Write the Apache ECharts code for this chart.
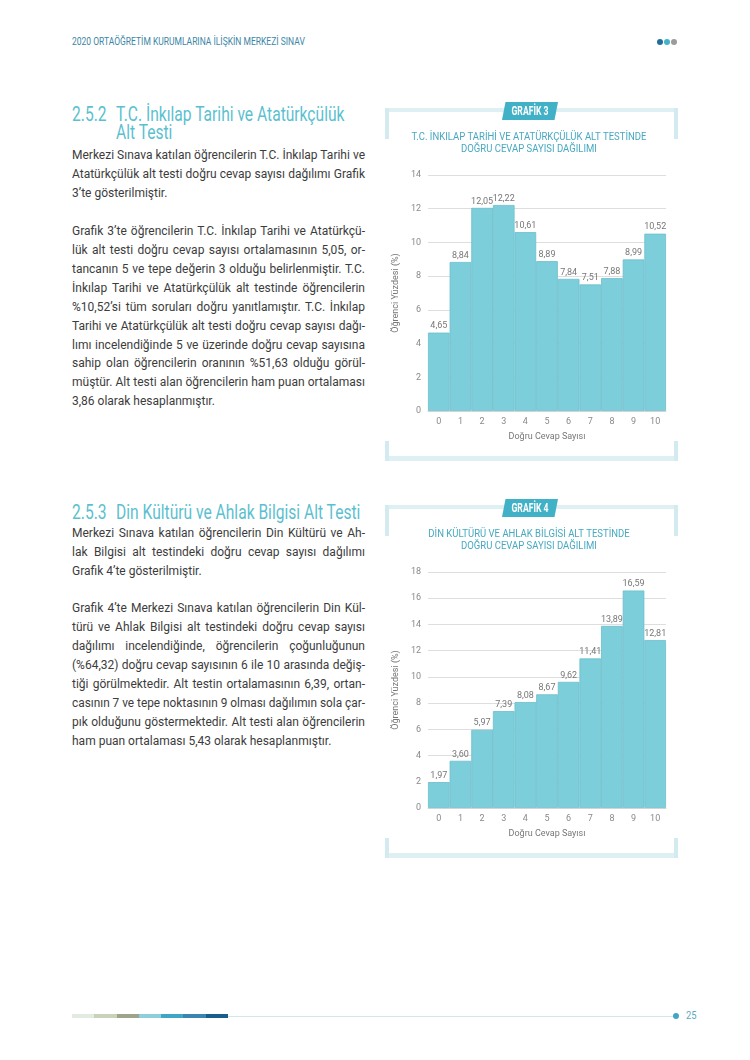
<!DOCTYPE html>
<html><head><meta charset="utf-8">
<script src="https://cdn.jsdelivr.net/npm/echarts@6/dist/echarts.min.js"></script>
<style>
html,body{margin:0;padding:0;background:#fff;}
#page{position:relative;width:750px;height:1060px;overflow:hidden;background:#fff;font-family:Roboto,"Noto Sans",sans-serif;}
.abs{position:absolute;}
.sx{display:inline-block;transform-origin:0 50%;white-space:nowrap;}
.hdr{left:72px;top:36px;font-size:10px;color:#3b86a6;white-space:nowrap;}
.h2{color:#5cbfd0;font-size:19.5px;line-height:18px;white-space:nowrap;}
.h2 .n{display:inline-block;width:55px;}
.body{left:72px;width:293px;font-size:12px;color:#3c3c3c;}
.body div{white-space:nowrap;text-align:justify;text-align-last:justify;overflow:visible;transform-origin:0 50%;}
.body div.last{text-align-last:left;}
.body div.blank{height:18.95px;}
.chart{position:absolute;width:310px;height:370px;}
</style></head>
<body><div id="page">
<div class="abs hdr"><span class="sx" style="transform:scaleX(0.85)">2020 ORTAÖĞRETİM KURUMLARINA İLİŞKİN MERKEZİ SINAV</span></div>
<div class="abs" style="left:657px;top:39px;width:6px;height:6px;border-radius:3px;background:#1f6f98"></div>
<div class="abs" style="left:664px;top:39px;width:6px;height:6px;border-radius:3px;background:#45b2c9"></div>
<div class="abs" style="left:671px;top:39px;width:6px;height:6px;border-radius:3px;background:#9b9b9b"></div>

<div class="abs h2" style="left:72px;top:106px;"><span class="sx" style="transform:scaleX(0.8)"><span class="n">2.5.2</span>T.C. İnkılap Tarihi ve Atatürkçülük<br><span class="n"></span>Alt Testi</span></div>
<div class="abs body" id="b1" style="top:146px;line-height:18.95px;"></div>

<div class="abs h2" style="left:72px;top:504px;"><span class="sx" style="transform:scaleX(0.8)"><span class="n">2.5.3</span>Din Kültürü ve Ahlak Bilgisi Alt Testi</span></div>
<div class="abs body" id="b2" style="top:523.5px;line-height:19px;"></div>

<div id="c3" class="chart" style="left:380px;top:95px;"></div>
<div id="c4" class="chart" style="left:380px;top:492px;"></div>

<div class="abs" style="left:72px;top:1014px;height:4px;width:156px;display:flex;">
<div style="flex:1;background:#e2ebdf"></div><div style="flex:1;background:#c8d2b8"></div><div style="flex:1;background:#9da489"></div><div style="flex:1;background:#8dcfda"></div><div style="flex:1;background:#3fa6c6"></div><div style="flex:1;background:#3a84b1"></div><div style="flex:1;background:#175e8d"></div>
</div>
<div class="abs" style="left:228px;top:1015.5px;height:1px;width:448px;background:#d3e6eb"></div>
<div class="abs" style="left:673px;top:1013px;width:6px;height:6px;border-radius:3px;background:#3fa6c6"></div>
<div class="abs" style="left:686px;top:1009px;font-size:11px;color:#5aa9c0;"><span class="sx" style="transform:scaleX(0.85)">25</span></div>
</div>
<script>
// ---- data ----
const categories = ['0','1','2','3','4','5','6','7','8','9','10'];
const grafik3Values = [4.65, 8.84, 12.05, 12.22, 10.61, 8.89, 7.84, 7.51, 7.88, 8.99, 10.52];
const grafik4Values = [1.97, 3.60, 5.97, 7.39, 8.08, 8.67, 9.62, 11.41, 13.89, 16.59, 12.81];
const grafik3Ticks = {min: 0, max: 14, interval: 2};
const grafik4Ticks = {min: 0, max: 18, interval: 2};
const grafik3Title = ['T.C. İNKILAP TARİHİ VE ATATÜRKÇÜLÜK ALT TESTİNDE', 'DOĞRU CEVAP SAYISI DAĞILIMI'];
const grafik4Title = ['DİN KÜLTÜRÜ VE AHLAK BİLGİSİ ALT TESTİNDE', 'DOĞRU CEVAP SAYISI DAĞILIMI'];
const xAxisName = 'Doğru Cevap Sayısı';
const yAxisName = 'Öğrenci Yüzdesi (%)';

const text1 = [
 'Merkezi Sınava katılan öğrencilerin T.C. İnkılap Tarihi ve',
 'Atatürkçülük alt testi doğru cevap sayısı dağılımı Grafik',
 '*3’te gösterilmiştir.',
 '',
 'Grafik 3’te öğrencilerin T.C. İnkılap Tarihi ve Atatürkçü-',
 'lük alt testi doğru cevap sayısı ortalamasının 5,05, or-',
 'tancanın 5 ve tepe değerin 3 olduğu belirlenmiştir. T.C.',
 'İnkılap Tarihi ve Atatürkçülük alt testinde öğrencilerin',
 '%10,52’si tüm soruları doğru yanıtlamıştır. T.C. İnkılap',
 'Tarihi ve Atatürkçülük alt testi doğru cevap sayısı dağı-',
 'lımı incelendiğinde 5 ve üzerinde doğru cevap sayısına',
 'sahip olan öğrencilerin oranının %51,63 olduğu görül-',
 'müştür. Alt testi alan öğrencilerin ham puan ortalaması',
 '*3,86 olarak hesaplanmıştır.'
];
const text2 = [
 'Merkezi Sınava katılan öğrencilerin Din Kültürü ve Ah-',
 'lak Bilgisi alt testindeki doğru cevap sayısı dağılımı',
 '*Grafik 4’te gösterilmiştir.',
 '',
 'Grafik 4’te Merkezi Sınava katılan öğrencilerin Din Kül-',
 'türü ve Ahlak Bilgisi alt testindeki doğru cevap sayısı',
 'dağılımı incelendiğinde, öğrencilerin çoğunluğunun',
 '(%64,32) doğru cevap sayısının 6 ile 10 arasında değiş-',
 'tiği görülmektedir. Alt testin ortalamasının 6,39, ortan-',
 'casının 7 ve tepe noktasının 9 olması dağılımın sola çar-',
 'pık olduğunu göstermektedir. Alt testi alan öğrencilerin',
 '*ham puan ortalaması 5,43 olarak hesaplanmıştır.'
];
const COLW = 293;
function fill(id, lines){
  const el = document.getElementById(id);
  lines.forEach(l=>{
    const d = document.createElement('div');
    if(l===''){d.className='blank'; el.appendChild(d); return;}
    let t = l;
    if(l[0]==='*'){t = l.slice(1); d.className='last';}
    const s = document.createElement('span');
    s.textContent = t;
    d.appendChild(s);
    el.appendChild(d);
    const w = s.getBoundingClientRect().width;
    if(w > COLW){
      d.style.width = w + 'px';
      d.style.textAlignLast = 'left';
      d.style.transform = 'scaleX(' + (COLW / w) + ')';
    }
  });
}
fill('b1', text1); fill('b2', text2);

const FONT = "Roboto,'Noto Sans',sans-serif";
const FRAME = '#dff0f5';
const FRAMEV = '#d2eaf0';

function makeChart(id, badge, title, values, ticks){
  const chart = echarts.init(document.getElementById(id), null, {renderer:'canvas'});
  const g = [
    {type:'rect', shape:{x:5,y:13,width:293,height:4}, style:{fill:FRAME}},
    {type:'rect', shape:{x:5,y:13,width:4,height:31}, style:{fill:FRAMEV}},
    {type:'rect', shape:{x:294,y:13,width:4,height:31}, style:{fill:FRAMEV}},
    {type:'rect', shape:{x:5,y:361,width:293,height:5}, style:{fill:FRAME}},
    {type:'rect', shape:{x:5,y:346,width:4,height:20}, style:{fill:FRAMEV}},
    {type:'rect', shape:{x:294,y:346,width:4,height:20}, style:{fill:FRAMEV}},
    {type:'polygon', shape:{points:[[122,25],[125.5,7],[178,7],[174.5,25]]}, style:{fill:'#40b1c6'}},
    {type:'text', x:150, y:16.5, scaleX:0.72, style:{text:badge, fill:'#fff', font:"bold 12px "+FONT, textAlign:'center', textVerticalAlign:'middle'}},
    {type:'text', x:149, y:42, scaleX:0.865, style:{text:title[0], fill:'#47a9c1', font:"11px "+FONT, textAlign:'center', textVerticalAlign:'middle'}},
    {type:'text', x:149, y:54, scaleX:0.865, style:{text:title[1], fill:'#47a9c1', font:"11px "+FONT, textAlign:'center', textVerticalAlign:'middle'}}
  ];
  chart.setOption({
    animation:false,
    graphic: g,
    grid:{left:48, top:80, width:238, height:236, containLabel:false},
    xAxis:{
      type:'category', data:categories,
      axisTick:{show:false},
      axisLine:{show:true, lineStyle:{color:'#d8d8d8'}},
      axisLabel:{color:'#8a8a8a', fontSize:9, margin:6, fontFamily:'Roboto'},
      name:xAxisName, nameLocation:'middle', nameGap:21,
      nameTextStyle:{color:'#777', fontSize:9, fontFamily:'Roboto'}
    },
    yAxis:{
      type:'value', min:ticks.min, max:ticks.max, interval:ticks.interval,
      axisLine:{show:false}, axisTick:{show:false},
      axisLabel:{color:'#8a8a8a', fontSize:9, margin:7, fontFamily:'Roboto'},
      splitLine:{lineStyle:{color:'#dedede', width:1}},
      name:yAxisName, nameLocation:'middle', nameGap:14,
      nameTextStyle:{color:'#777', fontSize:9, fontFamily:'Roboto'}
    },
    series:[{
      type:'bar', data:values, barCategoryGap:0, barGap:0,
      itemStyle:{color:'#7dcedb', borderColor:'#6cbecb', borderWidth:0.8},
      label:{show:true, position:'top', distance:2, color:'#777', fontSize:9, fontFamily:'Roboto',
        formatter:p=>p.value.toFixed(2).replace('.', ',')}
    }]
  });
}
makeChart('c3', 'GRAFİK 3', grafik3Title, grafik3Values, grafik3Ticks);
makeChart('c4', 'GRAFİK 4', grafik4Title, grafik4Values, grafik4Ticks);
</script>
</body></html>
